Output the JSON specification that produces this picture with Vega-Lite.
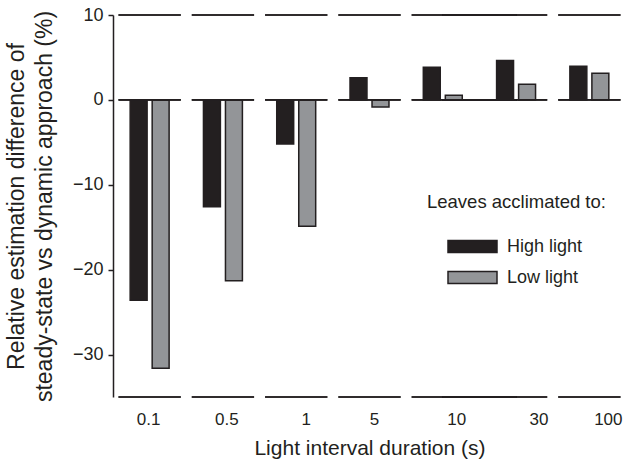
{
  "$schema": "https://vega.github.io/schema/vega-lite/v6.json",
  "width": 513,
  "height": 382,
  "autosize": "none",
  "padding": {"left": 113, "top": 15, "right": 14, "bottom": 64},
  "config": {
    "view": {"stroke": null},
    "font": "Liberation Sans",
    "axis": {"labelColor": "#231f20", "titleColor": "#231f20", "titleFontWeight": "normal", "domainColor": "#231f20", "tickColor": "#231f20", "grid": false}
  },
  "data": {
    "values": [
      {"duration": "0.1", "light": "High light", "value": -23.6},
      {"duration": "0.1", "light": "Low light", "value": -31.6},
      {"duration": "0.5", "light": "High light", "value": -12.6},
      {"duration": "0.5", "light": "Low light", "value": -21.3},
      {"duration": "1", "light": "High light", "value": -5.2},
      {"duration": "1", "light": "Low light", "value": -14.9},
      {"duration": "5", "light": "High light", "value": 2.6},
      {"duration": "5", "light": "Low light", "value": -0.85},
      {"duration": "10", "light": "High light", "value": 3.85},
      {"duration": "10", "light": "Low light", "value": 0.55},
      {"duration": "30", "light": "High light", "value": 4.65},
      {"duration": "30", "light": "Low light", "value": 1.85},
      {"duration": "100", "light": "High light", "value": 3.95},
      {"duration": "100", "light": "Low light", "value": 3.15}
    ]
  },
  "encoding": {
    "x": {
      "field": "duration",
      "type": "nominal",
      "sort": ["0.1", "0.5", "1", "5", "10", "30", "100"],
      "scale": {"paddingInner": 0, "paddingOuter": 0},
      "axis": {
        "domain": false,
        "ticks": false,
        "tickSize": 0,
        "labelAngle": 0,
        "labelFontSize": 17,
        "labelPadding": 14,
        "labelOffset": {
          "condition": [
            {"test": "datum.value === '0.5'", "value": 4},
            {"test": "datum.value === '1'", "value": 10},
            {"test": "datum.value === '5'", "value": 5},
            {"test": "datum.value === '10'", "value": 14},
            {"test": "datum.value === '30'", "value": 23},
            {"test": "datum.value === '100'", "value": 19}
          ],
          "value": -1
        },
        "title": "Light interval duration (s)",
        "titleFontSize": 21,
        "titlePadding": 10
      }
    }
  },
  "layer": [
    {
      "mark": {"type": "bar", "stroke": "#231f20", "strokeWidth": 1.5},
      "encoding": {
        "xOffset": {"field": "light", "type": "nominal", "sort": ["High light", "Low light"], "scale": {"paddingInner": 0.23, "paddingOuter": 0.78}},
        "y": {
          "field": "value",
          "type": "quantitative",
          "scale": {"domain": [-35, 10], "nice": false},
          "axis": {
            "values": [10, 0, -10, -20, -30],
            "domainWidth": 1.5,
            "tickWidth": 1.5,
            "tickSize": 5,
            "labelFontSize": 18,
            "labelPadding": 5,
            "title": ["Relative estimation difference of", "steady-state vs dynamic approach (%)"],
            "titleFontSize": 23,
            "titleLineHeight": 28,
            "titlePadding": 16
          }
        },
        "fill": {
          "field": "light",
          "type": "nominal",
          "scale": {"domain": ["High light", "Low light"], "range": ["#231f20", "#939598"]},
          "legend": {
            "orient": "none",
            "legendX": 314,
            "legendY": 178,
            "title": "Leaves acclimated to:",
            "titleFontSize": 18.5,
            "titleFontWeight": "normal",
            "titleColor": "#231f20",
            "titlePadding": 26,
            "symbolType": "M-1,-0.245H1V0.245H-1Z",
            "symbolSize": 2401,
            "symbolStrokeColor": "#231f20",
            "symbolStrokeWidth": 1.5,
            "symbolOpacity": 1,
            "symbolOffset": 20,
            "clipHeight": 18,
            "rowPadding": 13,
            "labelFontSize": 18,
            "labelColor": "#231f20",
            "labelOffset": 9
          }
        }
      }
    },
    {
      "mark": {"type": "bar", "fill": "transparent", "stroke": "#231f20", "strokeWidth": 1.6, "width": {"band": 0.85}},
      "encoding": {"y": {"datum": 10}, "y2": {"datum": 10}}
    },
    {
      "mark": {"type": "bar", "fill": "transparent", "stroke": "#231f20", "strokeWidth": 1.6, "width": {"band": 0.85}},
      "encoding": {"y": {"datum": 0}, "y2": {"datum": 0}}
    },
    {
      "mark": {"type": "bar", "fill": "transparent", "stroke": "#231f20", "strokeWidth": 1.6, "width": {"band": 0.85}},
      "encoding": {"y": {"datum": -35}, "y2": {"datum": -35}}
    },
    {
      "mark": {"type": "rule", "stroke": "#231f20", "strokeWidth": 1.8},
      "encoding": {"x": {"datum": "10"}, "x2": {"datum": "30"}, "y": {"datum": 10}}
    },
    {
      "mark": {"type": "rule", "stroke": "#231f20", "strokeWidth": 1.8},
      "encoding": {"x": {"datum": "10"}, "x2": {"datum": "30"}, "y": {"datum": 0}}
    },
    {
      "mark": {"type": "rule", "stroke": "#231f20", "strokeWidth": 1.8},
      "encoding": {"x": {"datum": "10"}, "x2": {"datum": "30"}, "y": {"datum": -35}}
    }
  ]
}
